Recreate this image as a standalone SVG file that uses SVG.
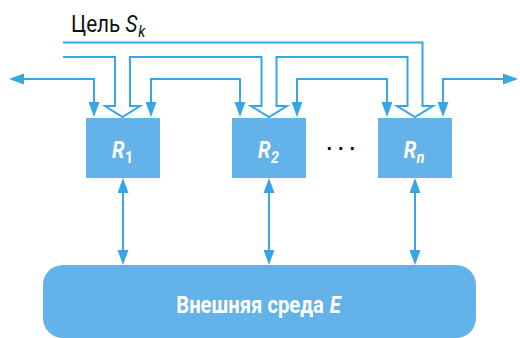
<svg xmlns="http://www.w3.org/2000/svg" width="520" height="338" viewBox="0 0 520 338">
  <style>
    .wire { fill: none; stroke: #36a6e6; stroke-width: 2; }
    .arrow { marker-start: url(#head); marker-end: url(#head); }
    .box { fill: #63b3ea; }
    .lbl { font-family: Roboto, "Liberation Sans", sans-serif; fill: #ffffff; font-weight: bold; }
    .goal { font-family: Roboto, "Liberation Sans", sans-serif; fill: #111111; }
    .it { font-style: italic; }
  </style>
  <defs>
    <marker id="head" markerUnits="userSpaceOnUse" markerWidth="15" markerHeight="11" refX="0" refY="5.5" orient="auto-start-reverse" overflow="visible">
      <path d="M0,0 L15,5.5 L0,11 Z" fill="#36a6e6"/>
    </marker>
  </defs>

  <!-- goal label (narrowed to a condensed look) -->
  <text class="goal" transform="translate(71,32) scale(0.9,1)" font-size="23">Цель <tspan class="it">S</tspan><tspan class="it" font-size="16" dx="1" dy="4.5">k</tspan></text>

  <!-- connectors -->
  <g id="connectors">
    <!-- goal bus with hollow arrows into each agent -->
    <path class="wire" d="M63,57 H115 V106 H105 L122.5,117 L140,106 H130 V57 H261.5 V106 H251 L269,117 L287,106 H276.5 V57 H407.5 V106 H397 L415,117 L433,106 H422.5 V42.5 H63"/>
    <!-- links between neighbouring agents -->
    <path class="wire arrow" d="M94,102 V79 H24"/>
    <path class="wire arrow" d="M151,102 V79 H240 V102"/>
    <path class="wire arrow" d="M297,102 V79 H387 V102"/>
    <path class="wire arrow" d="M443,102 V79 H503"/>
    <!-- agent / environment exchange -->
    <path class="wire arrow" d="M123,193 V250"/>
    <path class="wire arrow" d="M269,193 V250"/>
    <path class="wire arrow" d="M415,193 V250"/>
  </g>

  <g id="agent-1">
    <rect class="box" x="86" y="118" width="74" height="60"/>
    <text class="lbl" transform="translate(122.5,158) scale(0.88,1)" font-size="23" text-anchor="middle"><tspan class="it">R</tspan><tspan font-size="16" dx="0.5" dy="4.5">1</tspan></text>
  </g>
  <g id="agent-2">
    <rect class="box" x="232" y="118" width="74" height="60"/>
    <text class="lbl" transform="translate(268.5,158) scale(0.88,1)" font-size="23" text-anchor="middle"><tspan class="it">R</tspan><tspan class="it" font-size="16" dx="0.5" dy="4.5">2</tspan></text>
  </g>
  <text id="ellipsis" x="326.5" y="149.8" font-family="'Liberation Sans', sans-serif" font-weight="bold" font-size="20" letter-spacing="6" fill="#111111">...</text>
  <g id="agent-n">
    <rect class="box" x="378" y="118" width="74" height="60"/>
    <text class="lbl" transform="translate(414,158) scale(0.88,1)" font-size="23" text-anchor="middle"><tspan class="it">R</tspan><tspan class="it" font-size="16" dx="0.5" dy="4.5">n</tspan></text>
  </g>

  <g id="environment">
    <rect class="box" x="43" y="265" width="433" height="73" rx="20"/>
    <text class="lbl" transform="translate(258.5,312.5) scale(0.88,1)" font-size="23" text-anchor="middle">Внешняя среда <tspan class="it" dx="1">E</tspan></text>
  </g>
</svg>
